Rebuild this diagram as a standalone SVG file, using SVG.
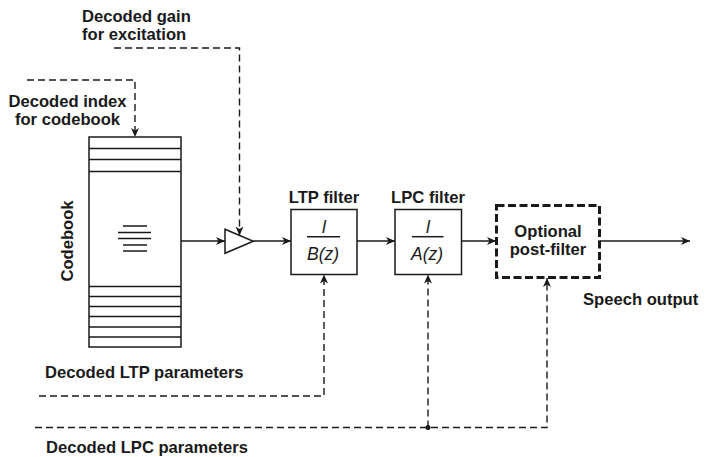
<svg xmlns="http://www.w3.org/2000/svg" width="705" height="457" viewBox="0 0 705 457">
  <style>
    .lbl { font-family: "Liberation Sans", Arial, sans-serif; font-weight: bold; font-size: 16.6px; fill: #1a1a1a; }
    .math { font-family: "Liberation Sans", Arial, sans-serif; font-style: italic; font-size: 17.5px; fill: #1a1a1a; }
    .box { fill: #fff; stroke: #1a1a1a; stroke-width: 1.5; }
    .thin { stroke: #1a1a1a; stroke-width: 1.5; fill: none; }
    .sig { stroke: #1a1a1a; stroke-width: 1.5; fill: none; marker-end: url(#arrow); }
    .ctl { stroke: #1a1a1a; stroke-width: 1.4; fill: none; stroke-dasharray: 7 4; marker-end: url(#arrow); }
  </style>
  <defs>
    <marker id="arrow" markerUnits="userSpaceOnUse" markerWidth="10" markerHeight="9" refX="9" refY="4" orient="auto">
      <path d="M0,0 L9,4 L0,8 L2.5,4 Z" fill="#1a1a1a"/>
    </marker>
  </defs>
  <rect width="705" height="457" fill="#fff"/>

  <!-- codebook -->
  <g id="codebook">
    <rect class="box" x="89" y="137" width="92" height="210"/>
    <path class="thin" d="M89,148.5 H181 M89,159.5 H181 M89,171.5 H181 M89,286.5 H181 M89,296.5 H181 M89,306.5 H181 M89,316.5 H181 M89,327 H181 M89,337 H181"/>
    <path class="thin" d="M123,226 H147 M118,232.5 H151 M118,238.5 H151 M123,245 H147 M123,251 H147"/>
    <text class="lbl" transform="translate(73,241) rotate(-90)" text-anchor="middle">Codebook</text>
  </g>

  <!-- gain amplifier -->
  <g id="gain">
    <path class="box" d="M225,229.3 L253.3,241.3 L225,253.3 Z"/>
  </g>

  <!-- LTP filter -->
  <g id="ltp">
    <text class="lbl" x="324" y="203" text-anchor="middle">LTP filter</text>
    <rect class="box" x="291" y="209.5" width="66" height="65"/>
    <text class="math" x="324" y="233" text-anchor="middle" font-size="15">l</text>
    <line class="thin" x1="307" y1="236.7" x2="340" y2="236.7"/>
    <text class="math" x="323" y="259.5" text-anchor="middle">B(z)</text>
  </g>

  <!-- LPC filter -->
  <g id="lpc">
    <text class="lbl" x="428" y="203" text-anchor="middle">LPC filter</text>
    <rect class="box" x="395" y="209.5" width="66.5" height="65"/>
    <text class="math" x="428" y="233" text-anchor="middle" font-size="15">l</text>
    <line class="thin" x1="412" y1="236.7" x2="443.5" y2="236.7"/>
    <text class="math" x="427" y="259.5" text-anchor="middle">A(z)</text>
  </g>

  <!-- optional post-filter -->
  <g id="postfilter">
    <rect x="496.5" y="205.5" width="103" height="72" fill="#fff" stroke="#1a1a1a" stroke-width="3" stroke-dasharray="8 3.5"/>
    <text class="lbl" x="548" y="237" text-anchor="middle">Optional</text>
    <text class="lbl" x="548" y="255" text-anchor="middle">post-filter</text>
  </g>

  <!-- parameter labels -->
  <g id="labels">
    <text class="lbl" x="82" y="22">Decoded gain</text>
    <text class="lbl" x="82" y="40">for excitation</text>
    <text class="lbl" x="67.5" y="106.5" text-anchor="middle">Decoded index</text>
    <text class="lbl" x="67.5" y="124.5" text-anchor="middle">for codebook</text>
    <text class="lbl" x="583" y="305">Speech output</text>
    <text class="lbl" x="45" y="378">Decoded LTP parameters</text>
    <text class="lbl" x="46" y="453">Decoded LPC parameters</text>
  </g>

  <!-- connectors -->
  <g id="connectors">
    <path class="sig" d="M181,241 H225"/>
    <path class="sig" d="M253.3,241 H291"/>
    <path class="sig" d="M357,241 H395"/>
    <path class="sig" d="M461.5,241 H496"/>
    <path class="sig" d="M599.5,241 H690"/>
    <path class="ctl" d="M27,80 H135 V137"/>
    <path class="ctl" d="M114,48 H239.5 V235.5"/>
    <path class="ctl" d="M39,396 H324 V274.5"/>
    <path class="ctl" d="M35,427.5 H547 V278"/>
    <path class="ctl" d="M428,427.5 V274.5"/>
    <circle cx="428" cy="427.5" r="2.5" fill="#1a1a1a"/>
  </g>
</svg>
